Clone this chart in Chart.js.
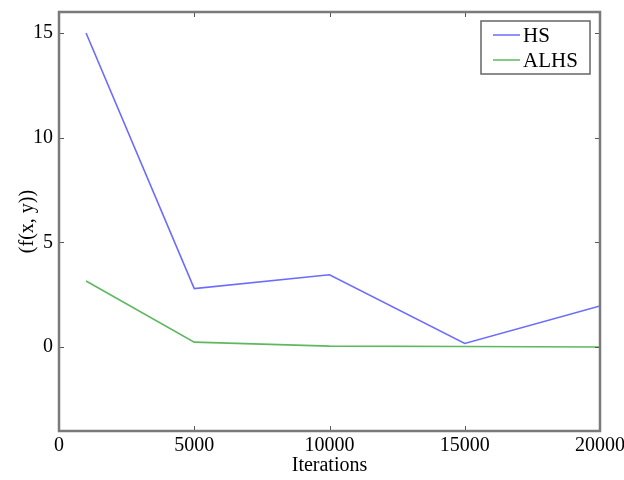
<!DOCTYPE html>
<html>
<head>
<meta charset="utf-8">
<script src="https://cdn.jsdelivr.net/npm/chart.js@4"></script>
<style>
  html, body { margin: 0; padding: 0; background: #fff; }
  #wrap { width: 624px; height: 480px; }
</style>
</head>
<body>
<div id="wrap"><canvas id="chart" width="624" height="480"></canvas></div>
<script>
// ---- Data ----
const iterations = [1000, 5000, 10000, 15000, 20000];
const hsValues = [15.0, 2.8, 3.46, 0.18, 1.97];
const alhsValues = [3.16, 0.24, 0.05, 0.03, 0.01];
const seriesNames = ['HS', 'ALHS'];
const xTicks = [0, 5000, 10000, 15000, 20000];
const yTicks = [0, 5, 10, 15];

const FONT = '"Liberation Serif", "DejaVu Serif", serif';
const FRAME = '#7a7a7a';

const toPoints = (xs, ys) => xs.map((x, i) => ({ x: x, y: ys[i] }));

// frame, inward ticks on all sides and legend box, like matplotlib classic
const framePlugin = {
  id: 'frame',
  afterDatasetsDraw(chart) {
    const { ctx, chartArea: a, scales } = chart;
    ctx.save();

    // tick marks
    ctx.strokeStyle = '#555';
    ctx.lineWidth = 1;
    const len = 5;
    xTicks.forEach(v => {
      const px = Math.round(scales.x.getPixelForValue(v)) + 0.5;
      ctx.beginPath();
      ctx.moveTo(px, a.bottom); ctx.lineTo(px, a.bottom - len);
      ctx.moveTo(px, a.top); ctx.lineTo(px, a.top + len);
      ctx.stroke();
    });
    yTicks.forEach(v => {
      const py = Math.round(scales.y.getPixelForValue(v)) + 0.5;
      ctx.beginPath();
      ctx.moveTo(a.left, py); ctx.lineTo(a.left + len, py);
      ctx.moveTo(a.right, py); ctx.lineTo(a.right - len, py);
      ctx.stroke();
    });

    // frame
    ctx.strokeStyle = FRAME;
    ctx.lineWidth = 2.5;
    ctx.strokeRect(a.left, a.top, a.right - a.left, a.bottom - a.top);

    // legend (upper right)
    const boxW = 109, boxH = 53;
    const bx = a.right - 10 - boxW, by = a.top + 9;
    ctx.fillStyle = '#fff';
    ctx.fillRect(bx, by, boxW, boxH);
    ctx.strokeStyle = '#666';
    ctx.lineWidth = 1.5;
    ctx.strokeRect(bx, by, boxW, boxH);
    ctx.font = '21px ' + FONT;
    ctx.textBaseline = 'middle';
    chart.data.datasets.forEach((ds, i) => {
      const ly = by + 14 + i * 25;
      ctx.strokeStyle = ds.borderColor;
      ctx.lineWidth = 1.5;
      ctx.beginPath();
      ctx.moveTo(bx + 12, ly); ctx.lineTo(bx + 39, ly);
      ctx.stroke();
      ctx.fillStyle = '#000';
      ctx.fillText(ds.label, bx + 42, ly + 1);
    });
    ctx.restore();
  }
};

new Chart(document.getElementById('chart').getContext('2d'), {
  type: 'line',
  data: {
    datasets: [
      {
        label: seriesNames[0],
        data: toPoints(iterations, hsValues),
        borderColor: 'rgba(70, 70, 255, 0.8)',
        borderWidth: 1.6,
        pointRadius: 0,
        tension: 0,
        fill: false,
      },
      {
        label: seriesNames[1],
        data: toPoints(iterations, alhsValues),
        borderColor: 'rgba(40, 160, 40, 0.75)',
        borderWidth: 1.6,
        pointRadius: 0,
        tension: 0,
        fill: false,
      },
    ],
  },
  options: {
    responsive: false,
    animation: false,
    layout: { padding: { top: 12, right: 24, left: 0, bottom: 0 } },
    plugins: {
      legend: { display: false },
      tooltip: { enabled: false },
    },
    scales: {
      x: {
        type: 'linear',
        min: 0,
        max: 20000,
        grid: { display: false, drawTicks: false },
        border: { display: false },
        afterBuildTicks: s => { s.ticks = xTicks.map(v => ({ value: v })); },
        afterFit: s => { s.height = 49; s.paddingLeft = 0; s.paddingRight = 0; },
        ticks: {
          padding: 3,
          color: '#000',
          maxRotation: 0,
          autoSkip: false,
          font: { family: FONT, size: 20 },
          callback: v => String(v),
        },
        title: {
          display: true,
          text: 'Iterations',
          color: '#000',
          padding: { top: 0, bottom: 2 },
          font: { family: FONT, size: 20 },
        },
      },
      y: {
        min: -4,
        max: 16,
        grid: { display: false, drawTicks: false },
        border: { display: false },
        afterBuildTicks: s => { s.ticks = yTicks.map(v => ({ value: v })); },
        afterFit: s => { s.width = 59; s.paddingTop = 0; s.paddingBottom = 0; },
        ticks: {
          padding: 6,
          color: '#000',
          font: { family: FONT, size: 20 },
          callback: v => String(v),
        },
        title: {
          display: true,
          text: '(f(x, y))',
          color: '#000',
          padding: { top: 16, bottom: 0 },
          font: { family: FONT, size: 20 },
        },
      },
    },
  },
  plugins: [framePlugin],
});
</script>
</body>
</html>
